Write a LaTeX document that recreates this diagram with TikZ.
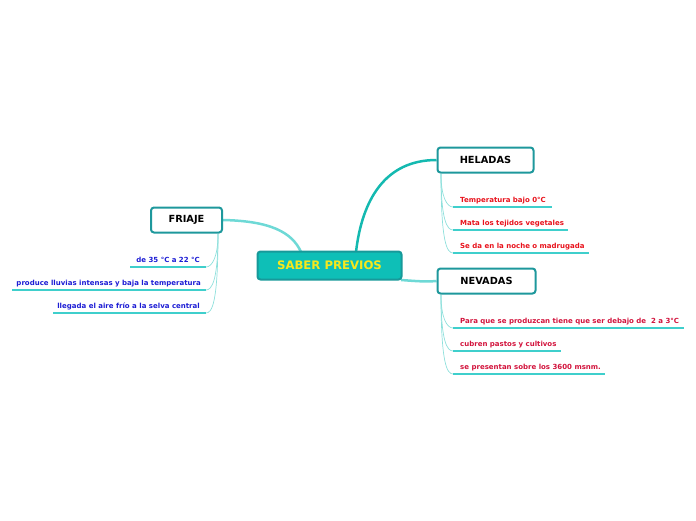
\documentclass[tikz,border=0pt]{standalone}
\usepackage{fontspec}
\setmainfont{DejaVu Sans}
\usetikzlibrary{backgrounds}
\definecolor{boxborder}{HTML}{1E989C}
\definecolor{centralfill}{HTML}{0EBFB7}
\definecolor{centralborder}{HTML}{17999A}
\definecolor{centraltext}{HTML}{F7E81C}
\definecolor{darklink}{HTML}{14B9B0}
\definecolor{lightlink}{HTML}{6ED9D6}
\definecolor{ulcolor}{HTML}{3FCFCC}
\definecolor{thinlink}{HTML}{8FE0DC}
\definecolor{redtext}{HTML}{E8121C}
\definecolor{crimsontext}{HTML}{D2133C}
\definecolor{bluetext}{HTML}{1C1CD4}
\begin{document}
\begin{tikzpicture}[x=1pt,y=-1pt,
  topicbox/.style={draw=boxborder, line width=2pt, fill=white, rounded corners=3pt,
    minimum height=25pt, inner sep=0pt, font=\bfseries\fontsize{9.8}{11}\selectfont},
  centralbox/.style={draw=centralborder, line width=2pt, fill=centralfill, rounded corners=3pt,
    minimum width=144pt, minimum height=28pt, inner sep=0pt, text=centraltext,
    font=\bfseries\fontsize{11.7}{13}\selectfont},
  itemtext/.style={inner sep=0pt, font=\bfseries\fontsize{7}{8}\selectfont},
  redt/.style={itemtext, text=redtext, anchor=base west},
  crimt/.style={itemtext, text=crimsontext, anchor=base west},
  bluet/.style={itemtext, text=bluetext, anchor=base east},
  uline/.style={draw=ulcolor, line width=1.4pt},
  thin/.style={draw=thinlink, line width=0.7pt},
  mainlink/.style={draw=lightlink, line width=2.5pt},
  darkmain/.style={draw=darklink, line width=2.5pt}]
\useasboundingbox (0,0) rectangle (696,520);

\node[centralbox] (central) at (329.5,265.5) {SABER PREVIOS};
\node[topicbox, minimum width=71pt] (friaje) at (186.5,220) {FRIAJE};
\node[topicbox, minimum width=96pt] (heladas) at (485.5,160) {HELADAS};
\node[topicbox, minimum width=98pt] (nevadas) at (486.5,281) {NEVADAS};

\coordinate (cf) at (301,252);
\coordinate (ch) at (356,252);
\coordinate (cn) at (401,280);

% FRIAJE items
\node[bluet] (f1) at (200,262) {de 35 °C a 22 °C};
\node[bluet] (f2) at (201,285) {produce lluvias intensas y baja la temperatura};
\node[bluet] (f3) at (200,308) {llegada el aire frío a la selva central};
\coordinate (f1a) at (130,267); \coordinate (f1b) at (206,267);
\coordinate (f2a) at (12,290);  \coordinate (f2b) at (206,290);
\coordinate (f3a) at (53,313);  \coordinate (f3b) at (206,313);
\coordinate (fs) at (218,234);

% HELADAS items
\node[redt] (h1) at (460,202) {Temperatura bajo 0°C};
\node[redt] (h2) at (460,225) {Mata los tejidos vegetales};
\node[redt] (h3) at (460,248) {Se da en la noche o madrugada};
\coordinate (h1a) at (453,207); \coordinate (h1b) at (552,207);
\coordinate (h2a) at (453,230); \coordinate (h2b) at (568,230);
\coordinate (h3a) at (453,253); \coordinate (h3b) at (589,253);
\coordinate (hs) at (441,174);

% NEVADAS items
\node[crimt] (n1) at (460,323) {Para que se produzcan tiene que ser debajo de \ 2 a 3°C};
\node[crimt] (n2) at (460,346) {cubren pastos y cultivos};
\node[crimt] (n3) at (460,369) {se presentan sobre los 3600 msnm.};
\coordinate (n1a) at (453,328); \coordinate (n1b) at (684,328);
\coordinate (n2a) at (453,351); \coordinate (n2b) at (561,351);
\coordinate (n3a) at (453,374); \coordinate (n3b) at (605,374);
\coordinate (ns) at (441,295);

\begin{scope}[on background layer]
% main connectors
\draw[mainlink] (cf) .. controls (292,232) and (270,221) .. (friaje.east);
\draw[darkmain] (ch) .. controls (362,200) and (385,160) .. (heladas.west);
\draw[mainlink] (cn) .. controls (415,281) and (425,282) .. (nevadas.west);
% sub branches
\foreach \i in {1,2,3} {
  \draw[thin] (fs) .. controls ([yshift=10pt]fs |- f\i b) and ([xshift=6pt]f\i b) .. (f\i b);
  \draw[uline] (f\i a) -- (f\i b);
  \draw[thin] (hs) .. controls ([yshift=10pt]hs |- h\i a) and ([xshift=-6pt]h\i a) .. (h\i a);
  \draw[uline] (h\i a) -- (h\i b);
  \draw[thin] (ns) .. controls ([yshift=10pt]ns |- n\i a) and ([xshift=-6pt]n\i a) .. (n\i a);
  \draw[uline] (n\i a) -- (n\i b);
}
\end{scope}
\end{tikzpicture}
\end{document}
